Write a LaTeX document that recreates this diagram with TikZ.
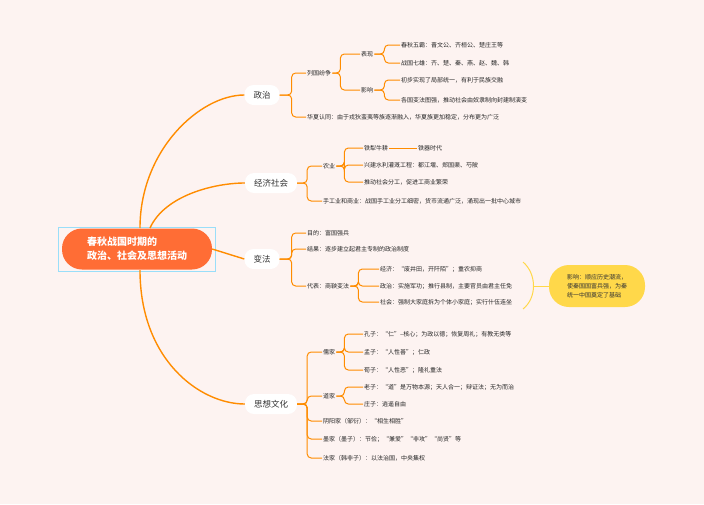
\documentclass[tikz,border=0pt]{standalone}
\usepackage{fontspec}
\setmainfont{Noto Sans CJK SC}
\begin{document}
\begin{tikzpicture}[x=1pt,y=-1pt,
  br/.style={draw=orange!90!yellow, line width=1pt, rounded corners=4pt},
  mainln/.style={draw=orange!90!yellow, line width=1.4pt},
  leaf/.style={anchor=west, inner sep=1pt, font=\fontsize{6}{7}\selectfont, text=black!85},
  branch/.style={fill=white, rounded corners=9pt, minimum height=20pt, inner xsep=9pt, font=\fontsize{8.5}{10}\selectfont, text=black!80}]
\definecolor{bg}{HTML}{FDF3F1}
\definecolor{rootc}{HTML}{FF6D35}
\definecolor{yel}{HTML}{FFD84A}
\fill[bg] (0,0) rectangle (704,504);
\useasboundingbox (0,0) rectangle (704,504);
% root
\node[fill=rootc, rounded corners=20pt, minimum width=150pt, minimum height=41pt, text=white, align=left, font=\fontsize{10}{14}\selectfont\bfseries] (root) at (137,249) {春秋战国时期的\\政治、社会及思想活动};
\draw[cyan!40, line width=0.6pt] (58,227) rectangle (215,271);
% branches
\node[branch] (zz) at (262,95) {政治};
\node[branch] (jj) at (271,183) {经济社会};
\node[branch] (bf) at (262,259) {变法};
\node[branch] (sx) at (271,404) {思想文化};
\coordinate (r1) at (140,228); \coordinate (r2) at (150,228);
\coordinate (r3) at (140,270);
\draw[mainln] (r1) .. controls (140,150) and (200,95) .. (zz.west);
\draw[mainln] (r2) .. controls (165,195) and (215,183) .. (jj.west);
\draw[mainln] (root.east) -- (bf.west);
\draw[mainln] (r3) .. controls (140,360) and (200,404) .. (sx.west);
% 政治
\node[leaf] (lg) at (306,73) {列国纷争};
\node[leaf] (hx) at (306,117) {华夏认同：由于戎狄蛮夷等族逐渐融入，华夏族更加稳定，分布更为广泛};
\foreach \c in {lg,hx} \draw[br] (zz.east) -- ++(12,0) |- (\c.west);
\node[leaf] (bx) at (360,54) {表现};
\node[leaf] (yx) at (360,90) {影响};
\foreach \c in {bx,yx} \draw[br] (lg.east) -- ++(8,0) |- (\c.west);
\node[leaf] (a1) at (400,45) {春秋五霸：晋文公、齐桓公、楚庄王等};
\node[leaf] (a2) at (400,63) {战国七雄：齐、楚、秦、燕、赵、魏、韩};
\foreach \c in {a1,a2} \draw[br] (bx.east) -- ++(10,0) |- (\c.west);
\node[leaf] (b1) at (400,80) {初步实现了局部统一，有利于民族交融};
\node[leaf] (b2) at (400,100) {各国变法图强，推动社会由奴隶制向封建制演变};
\foreach \c in {b1,b2} \draw[br] (yx.east) -- ++(10,0) |- (\c.west);
% 经济社会
\node[leaf] (ny) at (322,166) {农业};
\node[leaf] (sg) at (322,201) {手工业和商业：战国手工业分工细密，货币流通广泛，涌现出一批中心城市};
\foreach \c in {ny,sg} \draw[br] (jj.east) -- ++(10,0) |- (\c.west);
\node[leaf] (c1) at (363,148) {铁犁牛耕};
\node[leaf] (c2) at (363,165) {兴建水利灌溉工程：都江堰、郑国渠、芍陂};
\node[leaf] (c3) at (363,182) {推动社会分工，促进工商业繁荣};
\foreach \c in {c1,c2,c3} \draw[br] (ny.east) -- ++(8,0) |- (\c.west);
\node[leaf] (c4) at (417,148) {铁器时代};
\draw[br] (c1.east) -- (c4.west);
% 变法
\node[leaf] (d1) at (306,233) {目的：富国强兵};
\node[leaf] (d2) at (306,249) {结果：逐步建立起君主专制的政治制度};
\node[leaf] (d3) at (306,286) {代表：商鞅变法};
\foreach \c in {d1,d2,d3} \draw[br] (bf.east) -- ++(12,0) |- (\c.west);
\node[leaf] (e1) at (379,269) {经济：“废井田，开阡陌”；重农抑商};
\node[leaf] (e2) at (379,286) {政治：实施军功；推行县制，主要官员由君主任免};
\node[leaf] (e3) at (379,302) {社会：强制大家庭拆为个体小家庭；实行什伍连坐};
\foreach \c in {e1,e2,e3} \draw[br] (d3.east) -- ++(8,0) |- (\c.west);
\coordinate (k1) at (523,262); \coordinate (k2) at (523,309); \coordinate (km) at (533,286);
\draw[yel, line width=1pt] (k1) .. controls (537,274) and (537,298) .. (k2);
\node[fill=yel, rounded corners=20pt, minimum width=96pt, minimum height=42pt, align=left, font=\fontsize{6}{9}\selectfont, text=black!80] (yy) at (597,286) {影响：顺应历史潮流，\\使秦国国富兵强，为秦\\统一中国奠定了基础};
\draw[yel, line width=1pt] (km) -- (yy.west);
% 思想文化
\node[leaf] (f1) at (322,352) {儒家};
\node[leaf] (f2) at (322,396) {道家};
\node[leaf] (f3) at (322,421) {阴阳家（邹衍）：“相生相胜”};
\node[leaf] (f4) at (322,439) {墨家（墨子）：节俭；“兼爱”“非攻”“尚贤”等};
\node[leaf] (f5) at (322,458) {法家（韩非子）：以法治国，中央集权};
\foreach \c in {f1,f2,f3,f4,f5} \draw[br] (sx.east) -- ++(10,0) |- (\c.west);
\node[leaf] (g1) at (363,334) {孔子：“仁”–核心；为政以德；恢复周礼；有教无类等};
\node[leaf] (g2) at (363,352) {孟子：“人性善”；仁政};
\node[leaf] (g3) at (363,370) {荀子：“人性恶”；隆礼重法};
\foreach \c in {g1,g2,g3} \draw[br] (f1.east) -- ++(8,0) |- (\c.west);
\node[leaf] (h1) at (363,387) {老子：“道”是万物本源；天人合一；辩证法；无为而治};
\node[leaf] (h2) at (363,404) {庄子：逍遥自由};
\foreach \c in {h1,h2} \draw[br] (f2.east) -- ++(8,0) |- (\c.west);
\end{tikzpicture}
\end{document}
